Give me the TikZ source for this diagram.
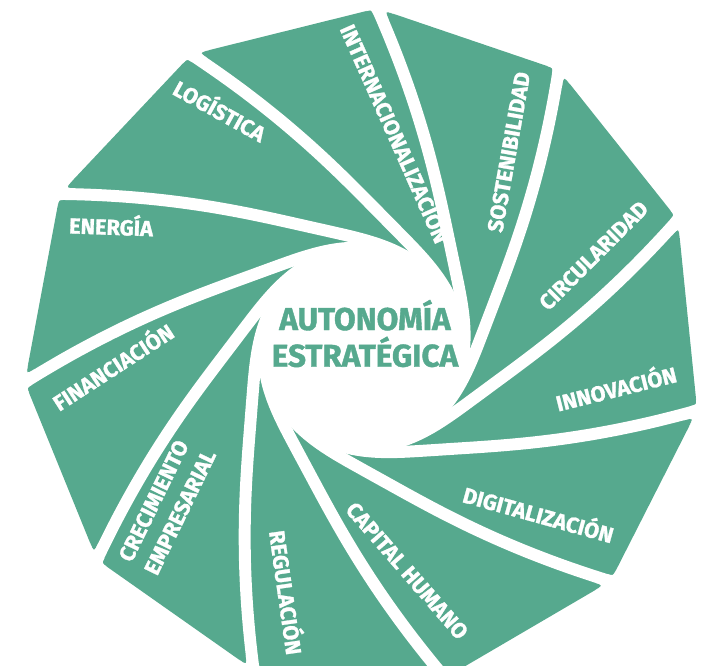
\documentclass[tikz,border=0pt]{standalone}
\usepackage{fontspec}
\setmainfont{Fira Sans}[BoldFeatures={FakeBold=1.2}]
\usepackage{xcolor}
\definecolor{bladegreen}{HTML}{56A98E}

\tikzset{
  gap/.style={white, line width=8.5pt},
  bladelabel/.style={text=white, inner sep=0pt, text height=0.69em, text depth=0pt,
    font=\bfseries\fontsize{15.5}{18}\selectfont},
  core/.style={text=bladegreen, inner sep=0pt, anchor=base,
    font=\bfseries\fontsize{22.4}{26}\selectfont},
}

\begin{document}
\begin{tikzpicture}[x=0.025cm, y=0.025cm]
    \useasboundingbox (-363,-318) rectangle (343,348);
    \def\firstcorner{87.6}
    \def\turn{32.727}

    % the eleven-sided plate
    \fill[bladegreen] (\firstcorner:340)
      \foreach \k in {1,...,10} { -- ({\firstcorner-\turn*\k}:340) } -- cycle;

    % a white spiral cut from every corner
    \foreach \k in {0,...,10}
      \draw[gap] plot[domain=-6:115, samples=90, smooth]
        ({\firstcorner-\turn*\k-\x}:{98+242*exp(-\x/20.1)});
    \fill[white] (0,0) circle[radius=100];

    % round off the two blade corners beside every cut
    \foreach \k in {0,...,10} {
      \begin{scope}[rotate={\firstcorner-\turn*\k}]
        \fill[white] (336.6,11.5) .. controls (338.3,5.8) .. (333.0,3.2) -- (341.9,4.2) -- cycle;
        \fill[white] (334.9,-17.4) .. controls (337.7,-7.8) .. (328.7,-12.2) -- (339.6,-5.5) -- cycle;
      \end{scope}
    }

    \node[core] (autonomia) at (2,18) {AUTONOMÍA};
    \node[core] (estrategica) at (2,-18.7) {ESTRATÉGICA};

    \node[bladelabel, rotate=-66] (internacionalizacion) at (29,213) {INTERNACIONALIZACIÓN};
    \node[bladelabel, rotate=80] (sostenibilidad) at (148.5,195.5) {SOSTENIBILIDAD};
    \node[bladelabel, rotate=45] (circularidad) at (232.5,90.5) {CIRCULARIDAD};
    \node[bladelabel, rotate=14] (innovacion) at (254,-44) {INNOVACIÓN};
    \node[bladelabel, rotate=-15.5] (digitalizacion) at (174.5,-170) {DIGITALIZACIÓN};
    \node[bladelabel, rotate=-49] (capital) at (42,-224.5) {CAPITAL HUMANO};
    \node[bladelabel, rotate=-82] (regulacion) at (-80.5,-245) {REGULACIÓN};
    \node[bladelabel, rotate=64] (crecimiento) at (-207,-154) {CRECIMIENTO};
    \node[bladelabel, rotate=64] (empresarial) at (-180.5,-165.5) {EMPRESARIAL};
    \node[bladelabel, rotate=33] (financiacion) at (-248,-22) {FINANCIACIÓN};
    \node[bladelabel, rotate=-2] (energia) at (-252,118) {ENERGÍA};
    \node[bladelabel, rotate=-29] (logistica) at (-145,234) {LOGÍSTICA};
\end{tikzpicture}
\end{document}
